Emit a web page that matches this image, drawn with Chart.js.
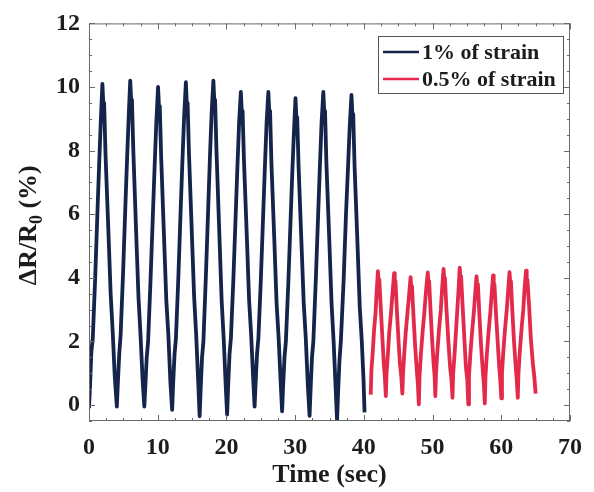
<!DOCTYPE html>
<html>
<head>
<meta charset="utf-8">
<script src="https://cdn.jsdelivr.net/npm/chart.js@4/dist/chart.umd.min.js"></script>
<style>
  html, body { margin: 0; padding: 0; background: #fff; }
</style>
</head>
<body>
<canvas id="chart" width="594" height="492"></canvas>
<script>
const xTicks = [0, 10, 20, 30, 40, 50, 60, 70];
const yTicks = [0, 2, 4, 6, 8, 10, 12];
const seriesNames = ['1% of strain', '0.5% of strain'];

// 1% of strain, 0-40 s
const strain1Time = [
  0.0, 0.15, 0.35, 0.55, 0.9, 1.25, 1.5, 1.75, 1.95, 2.1, 2.2, 2.4, 2.8, 3.15, 3.45, 3.75, 4.05,
  4.2, 4.4, 4.6, 4.95, 5.3, 5.55, 5.8, 6.0, 6.15, 6.25, 6.45, 6.85, 7.2, 7.5, 7.8, 8.05,
  8.2, 8.4, 8.6, 8.95, 9.3, 9.55, 9.8, 10.05, 10.2, 10.3, 10.5, 10.9, 11.25, 11.55, 11.85, 12.1,
  12.25, 12.45, 12.65, 13.0, 13.35, 13.6, 13.85, 14.1, 14.25, 14.35, 14.55, 14.95, 15.3, 15.6, 15.9, 16.1,
  16.25, 16.45, 16.65, 17.0, 17.35, 17.6, 17.85, 18.1, 18.25, 18.35, 18.55, 18.95, 19.3, 19.6, 19.9, 20.1,
  20.25, 20.45, 20.65, 21.0, 21.35, 21.6, 21.85, 22.1, 22.25, 22.35, 22.55, 22.95, 23.3, 23.6, 23.9, 24.1,
  24.25, 24.45, 24.65, 25.0, 25.35, 25.6, 25.85, 26.1, 26.25, 26.35, 26.55, 26.95, 27.3, 27.6, 27.9, 28.1,
  28.25, 28.45, 28.65, 29.0, 29.35, 29.6, 29.85, 30.05, 30.2, 30.3, 30.5, 30.9, 31.25, 31.55, 31.85, 32.1,
  32.25, 32.45, 32.65, 33.0, 33.35, 33.6, 33.85, 34.1, 34.25, 34.35, 34.55, 34.95, 35.3, 35.6, 35.9, 36.1,
  36.25, 36.45, 36.65, 37.05, 37.4, 37.7, 37.95, 38.2, 38.35, 38.45, 38.65, 39.05, 39.4, 39.7, 39.95, 40.1
];
const strain1Value = [
  -0.1, 0.6, 1.7, 2.1, 4.0, 6.2, 7.7, 9.1, 10.1, 9.4, 9.5, 7.9, 5.6, 3.5, 2.3, 0.9, -0.05,
  0.7, 1.6, 2.2, 4.1, 6.3, 7.8, 9.2, 10.2, 9.5, 9.6, 8.0, 5.5, 3.4, 2.2, 0.8, -0.05,
  0.6, 1.5, 2.0, 3.9, 6.0, 7.5, 8.9, 10.0, 9.3, 9.4, 7.8, 5.4, 3.3, 2.2, 0.7, -0.15,
  0.7, 1.6, 2.1, 4.0, 6.2, 7.7, 9.1, 10.15, 9.4, 9.5, 7.9, 5.5, 3.4, 2.2, 0.7, -0.35,
  0.5, 1.5, 2.0, 4.0, 6.2, 7.8, 9.2, 10.2, 9.5, 9.6, 8.0, 5.5, 3.3, 2.1, 0.6, -0.3,
  0.6, 1.6, 2.1, 3.9, 6.0, 7.5, 8.9, 9.85, 9.15, 9.25, 7.7, 5.4, 3.3, 2.2, 0.8, -0.05,
  0.7, 1.6, 2.1, 3.9, 6.0, 7.5, 8.9, 9.85, 9.15, 9.25, 7.6, 5.3, 3.2, 2.1, 0.7, -0.2,
  0.6, 1.5, 2.0, 3.8, 5.9, 7.4, 8.7, 9.65, 8.95, 9.05, 7.5, 5.2, 3.2, 2.1, 0.6, -0.34,
  0.5, 1.5, 2.0, 3.9, 6.0, 7.5, 8.9, 9.85, 9.15, 9.25, 7.6, 5.3, 3.2, 2.0, 0.5, -0.48,
  0.4, 1.4, 2.0, 3.9, 6.0, 7.5, 8.8, 9.75, 9.05, 9.15, 7.5, 5.2, 3.1, 2.0, 0.8, -0.23
];

// 0.5% of strain, 41-65 s
const strain05Time = [
  41.0, 41.1, 41.3, 41.5, 41.7, 41.9, 42.05, 42.15, 42.25, 42.45, 42.7, 42.9, 43.05, 43.2,
  43.3, 43.5, 43.7, 43.95, 44.2, 44.4, 44.5, 44.6, 44.8, 45.05, 45.25, 45.45, 45.6,
  45.7, 45.9, 46.1, 46.35, 46.6, 46.8, 46.9, 47.0, 47.2, 47.45, 47.7, 47.85, 48.0,
  48.1, 48.3, 48.55, 48.8, 49.05, 49.3, 49.4, 49.5, 49.7, 49.95, 50.15, 50.3, 50.4,
  50.5, 50.7, 50.95, 51.2, 51.4, 51.6, 51.7, 51.8, 52.0, 52.3, 52.55, 52.75, 52.9,
  53.0, 53.2, 53.4, 53.6, 53.8, 53.95, 54.05, 54.15, 54.4, 54.65, 54.85, 55.05, 55.2,
  55.3, 55.5, 55.75, 56.0, 56.2, 56.4, 56.5, 56.6, 56.8, 57.05, 57.3, 57.45, 57.6,
  57.7, 57.9, 58.15, 58.4, 58.6, 58.8, 58.9, 59.0, 59.25, 59.5, 59.7, 59.85, 60.0,
  60.1, 60.3, 60.55, 60.8, 61.0, 61.2, 61.3, 61.4, 61.6, 61.85, 62.1, 62.25, 62.4,
  62.5, 62.7, 62.95, 63.2, 63.4, 63.6, 63.7, 63.8, 64.05, 64.3, 64.6, 64.8, 65.0
];
const strain05Value = [
  0.33, 1.1, 1.7, 2.4, 2.9, 3.7, 4.21, 3.9, 3.95, 3.1, 2.1, 1.3, 0.9, 0.28,
  1.0, 1.6, 2.3, 2.9, 3.6, 4.15, 3.85, 3.9, 3.0, 2.0, 1.3, 0.9, 0.36,
  1.0, 1.7, 2.3, 2.9, 3.5, 4.02, 3.7, 3.75, 2.9, 1.9, 1.1, 0.7, 0.02,
  0.9, 1.6, 2.3, 2.9, 3.6, 4.17, 3.85, 3.9, 3.0, 2.0, 1.3, 0.9, 0.28,
  1.0, 1.7, 2.4, 3.0, 3.7, 4.28, 3.95, 4.0, 3.1, 2.0, 1.2, 0.8, 0.23,
  1.0, 1.6, 2.3, 3.0, 3.7, 4.32, 4.0, 4.05, 3.0, 2.0, 1.2, 0.8, 0.02,
  0.9, 1.6, 2.3, 2.9, 3.5, 4.05, 3.75, 3.8, 2.9, 1.9, 1.1, 0.7, 0.05,
  0.9, 1.6, 2.3, 2.9, 3.5, 4.08, 3.75, 3.8, 2.8, 1.9, 1.2, 0.8, 0.21,
  1.0, 1.7, 2.4, 3.0, 3.6, 4.18, 3.85, 3.9, 3.0, 2.0, 1.2, 0.8, 0.23,
  1.0, 1.7, 2.4, 3.0, 3.7, 4.23, 3.9, 3.95, 3.1, 2.1, 1.3, 0.9, 0.36
];

const navy = '#15244a';
const red = '#e32a4b';
const frameColor = '#6a6a6a';
const textColor = '#1c1c1c';
const serif = "'Liberation Serif', 'Times New Roman', serif";

function points(xs, ys) {
  return xs.map((x, i) => ({ x: x, y: ys[i] }));
}

// frame, inward ticks on all sides, legend box and axis titles
const decorations = {
  id: 'decorations',
  afterDraw(chart) {
    const ctx = chart.ctx;
    const a = chart.chartArea;
    const xs = chart.scales.x, ys = chart.scales.y;
    ctx.save();
    ctx.strokeStyle = frameColor;
    ctx.lineWidth = 1;
    ctx.strokeRect(a.left + 0.5, a.top + 0.5, a.right - a.left - 1, a.bottom - a.top - 1);

    ctx.beginPath();
    for (let v = 0; v <= 70.001; v += 2.5) {
      const px = Math.round(xs.getPixelForValue(v)) + 0.5;
      const len = (Math.abs(v % 10) < 0.001) ? 6 : 3;
      ctx.moveTo(px, a.bottom); ctx.lineTo(px, a.bottom - len);
      ctx.moveTo(px, a.top); ctx.lineTo(px, a.top + len);
    }
    for (let v = -0.5; v <= 12.001; v += 0.5) {
      const py = Math.round(ys.getPixelForValue(v)) + 0.5;
      const len = (Math.abs(v % 2) < 0.001) ? 6 : 3;
      ctx.moveTo(a.left, py); ctx.lineTo(a.left + len, py);
      ctx.moveTo(a.right, py); ctx.lineTo(a.right - len, py);
    }
    ctx.stroke();

    // legend
    const bx = 378, by = 36, bw = 185, bh = 57;
    ctx.fillStyle = '#fff';
    ctx.fillRect(bx, by, bw, bh);
    ctx.strokeStyle = '#555';
    ctx.strokeRect(bx + 0.5, by + 0.5, bw, bh);
    const colors = [navy, red];
    ctx.font = 'bold 22px ' + serif;
    ctx.textBaseline = 'middle';
    ctx.textAlign = 'left';
    seriesNames.forEach((name, i) => {
      const y = 52 + i * 27;
      ctx.strokeStyle = colors[i];
      ctx.lineWidth = 2.5;
      ctx.beginPath();
      ctx.moveTo(383, y); ctx.lineTo(419, y);
      ctx.stroke();
      ctx.fillStyle = textColor;
      ctx.fillText(name, 422, y + 1);
    });

    // x title
    ctx.fillStyle = textColor;
    ctx.font = 'bold 26px ' + serif;
    ctx.textAlign = 'center';
    ctx.textBaseline = 'alphabetic';
    ctx.fillText('Time (sec)', (a.left + a.right) / 2, 482);

    // y title with subscript
    const big = 'bold 26px ' + serif, small = 'bold 18px ' + serif;
    const parts = [['ΔR/R', big, 0], ['0', small, 6], [' (%)', big, 0]];
    let total = 0;
    parts.forEach(p => { ctx.font = p[1]; total += ctx.measureText(p[0]).width; });
    ctx.translate(36, (a.top + a.bottom) / 2 + 3);
    ctx.rotate(-Math.PI / 2);
    ctx.textAlign = 'left';
    let cx = -total / 2;
    parts.forEach(p => {
      ctx.font = p[1];
      ctx.fillText(p[0], cx, p[2]);
      cx += ctx.measureText(p[0]).width;
    });
    ctx.restore();
  }
};

new Chart(document.getElementById('chart'), {
  type: 'line',
  data: {
    datasets: [
      { label: seriesNames[0], data: points(strain1Time, strain1Value), borderColor: navy, borderWidth: 3.8, borderJoinStyle: 'round' },
      { label: seriesNames[1], data: points(strain05Time, strain05Value), borderColor: red, borderWidth: 3.8, borderJoinStyle: 'round' }
    ]
  },
  options: {
    responsive: false,
    animation: false,
    parsing: false,
    elements: { point: { radius: 0 }, line: { tension: 0 } },
    layout: { padding: { left: 0, right: 15, top: 21, bottom: 0 } },
    plugins: { legend: { display: false }, tooltip: { enabled: false } },
    scales: {
      x: {
        type: 'linear', min: 0, max: 70,
        afterBuildTicks: s => { s.ticks = xTicks.map(v => ({ value: v })); },
        afterFit: s => { s.height = 71; },
        grid: { display: false, drawTicks: false },
        border: { display: false },
        ticks: { padding: 12, color: textColor, font: { family: serif, size: 24, weight: 'bold' }, maxRotation: 0 }
      },
      y: {
        type: 'linear', min: -0.5, max: 12,
        afterBuildTicks: s => { s.ticks = yTicks.map(v => ({ value: v })); },
        afterFit: s => { s.width = 89; },
        grid: { display: false, drawTicks: false },
        border: { display: false },
        ticks: { padding: 9, color: textColor, font: { family: serif, size: 24, weight: 'bold' } }
      }
    }
  },
  plugins: [decorations]
});
</script>
</body>
</html>
